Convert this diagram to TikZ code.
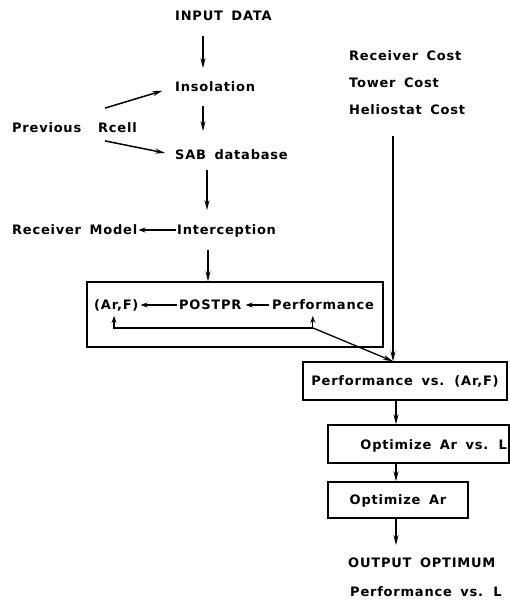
\documentclass[tikz,border=0pt]{standalone}
\usepackage{fontspec}
\newfontfamily\lblfont{DejaVu Sans}[LetterSpace=6,WordSpace=1.6]
\usetikzlibrary{arrows.meta,calc}
\begin{document}
\begin{tikzpicture}[x=1pt,y=-1pt,
  txt/.style={font=\lblfont\bfseries\fontsize{13}{15}\selectfont, inner sep=0pt, text height=9.4pt, text depth=0pt},
  lt/.style={txt, anchor=west},
  box/.style={draw, line width=1.4pt, inner sep=0pt},
  arr/.style={line width=1.5pt, -{Stealth[length=10pt,width=5pt]}},
  sarr/.style={line width=1.3pt, -{Stealth[length=7pt,width=5pt]}},
  darr/.style={line width=1.3pt, {Stealth[length=7pt,width=5pt]}-{Stealth[length=7pt,width=5pt]}}
]
\useasboundingbox (0,0) rectangle (509,601);
% column coordinates
\coordinate (cA) at (203,0);
\coordinate (cB) at (207,0);
\coordinate (cC) at (208,0);
\coordinate (cR) at (393,0);
\coordinate (cR2) at (396,0);
% free text
\node[lt] (input) at (175,16) {INPUT DATA};
\node[lt] (insol) at (175,87) {Insolation};
\node[lt] (sab) at (175,155) {SAB database};
\node[lt] (prev) at (12,128) {Previous};
\node[lt] (rcell) at (98,128) {Rcell};
\node[lt] (recv) at (12,230) {Receiver Model};
\node[lt] (intc) at (177,230) {Interception};
\node[lt] (rcost) at (349,56) {Receiver Cost};
\node[lt] (tcost) at (349,83) {Tower Cost};
\node[lt] (hcost) at (349,110) {Heliostat Cost};
% box 1
\node[box, minimum width=296pt, minimum height=65pt] (box1) at (235,314.5) {};
\node[lt] (arf) at (94,305) {(Ar,F)};
\node[lt] (post) at (179,305) {POSTPR};
\node[lt] (perf) at (272,305) {Performance};
% right boxes
\node[box, txt, minimum width=204pt, minimum height=38pt] (box2) at (405,381) {Performance vs. (Ar,F)};
\node[box, minimum width=181pt, minimum height=38pt] (box3) at (418.5,444) {};
\node[txt, anchor=east] (opt1) at (507,445) {Optimize Ar vs. L};
\node[box, txt, minimum width=140pt, minimum height=36pt] (box4) at (398,500) {Optimize Ar};
\node[lt] (out1) at (348,563) {OUTPUT OPTIMUM};
\node[lt] (out2) at (350,592) {Performance vs. L};
% left column arrows
\draw[arr, shorten <=15pt, shorten >=14pt] (input.south -| cA) -- (insol.north -| cA);
\draw[arr, shorten <=14pt, shorten >=19pt] (insol.south -| cA) -- (sab.north -| cA);
\draw[arr, shorten <=10pt, shorten >=15pt] (sab.south -| cB) -- (intc.north -| cB);
\draw[arr, shorten <=15pt] (intc.south -| cC) -- (box1.north -| cC);
\draw[sarr, shorten <=1pt, shorten >=1pt] (intc.west) -- (recv.east);
% Rcell arrows
\draw[arr, shorten >=13pt] ([shift={(7pt,15pt)}]rcell.north west) -- (insol.west);
\draw[arr, shorten >=10pt] ([shift={(7pt,-8pt)}]rcell.south west) -- (sab.west);
% inside box 1
\draw[sarr, shorten <=2pt, shorten >=2pt] (post.west) -- (arf.east);
\draw[sarr, shorten <=3pt, shorten >=4pt] (perf.west) -- (post.east);
\path ($(perf.south west)!0.4!(perf.south east)$) ++(0,6) coordinate (pR) ++(0,12) coordinate (qR);
\path ($(arf.south west)!0.45!(arf.south east)$) ++(0,6) coordinate (pL);
\draw[darr] (pR) -- (qR) -- (qR -| pL) -- (pL);
% right column
\draw[arr, shorten <=21pt] (hcost.south -| cR) -- (box2.north -| cR);
\draw[arr, line width=1.3pt] (qR) -- (box2.north -| cR);
\draw[arr] (box2.south -| cR2) -- (box3.north -| cR2);
\draw[arr] (box3.south -| cR2) -- (box4.north -| cR2);
\draw[arr, shorten >=13pt] (box4.south -| cR2) -- (out1.north -| cR2);
\end{tikzpicture}
\end{document}
